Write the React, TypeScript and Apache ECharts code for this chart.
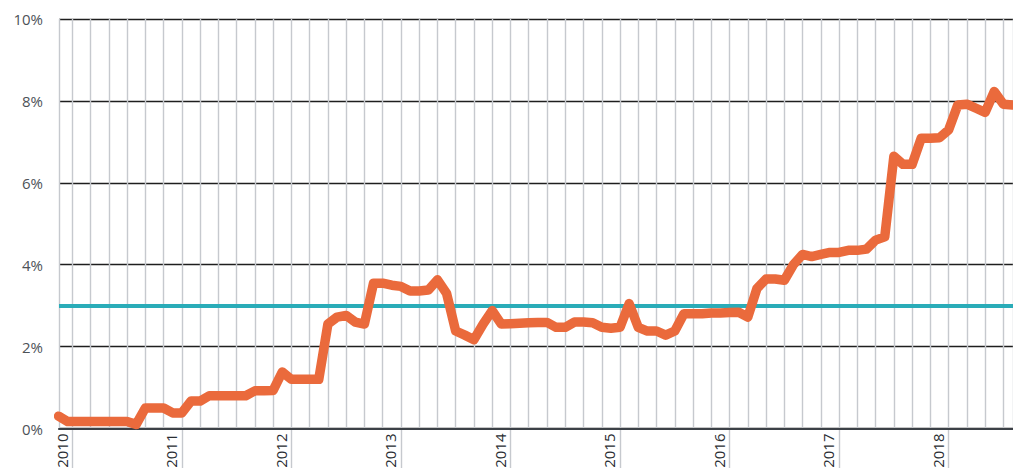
import React, { useEffect, useRef } from "react";
import * as echarts from "echarts";

// Lead-in points (late 2009), in months relative to Jan 2010
const leadMonths = [-1.5, -0.5];
const leadRates = [0.3, 0.17];

// Monthly rate (%) from Jan 2010 (index 0) onward
const rates = [
  0.17, 0.17, 0.17, 0.17, 0.17, 0.17, 0.17, 0.1, 0.5, 0.5, 0.5, 0.38,
  0.38, 0.67, 0.67, 0.8, 0.8, 0.8, 0.8, 0.8, 0.92, 0.92, 0.93, 1.38,
  1.2, 1.2, 1.2, 1.2, 2.55, 2.72, 2.76, 2.6, 2.55, 3.55, 3.55, 3.5,
  3.47, 3.36, 3.36, 3.38, 3.63, 3.3, 2.38, 2.28, 2.17, 2.55, 2.88, 2.55,
  2.56, 2.57, 2.58, 2.59, 2.59, 2.47, 2.47, 2.6, 2.6, 2.58, 2.47, 2.45,
  2.47, 3.05, 2.47, 2.38, 2.38, 2.28, 2.38, 2.8, 2.8, 2.8, 2.82, 2.82,
  2.83, 2.84, 2.72, 3.42, 3.65, 3.65, 3.62, 4.0, 4.25, 4.2, 4.25, 4.3,
  4.3, 4.35, 4.35, 4.38, 4.6, 4.68, 6.65, 6.45, 6.45, 7.09, 7.09, 7.1,
  7.29, 7.9, 7.92, 7.82, 7.72, 8.23, 7.92, 7.9,
];

const years = ["2010", "2011", "2012", "2013", "2014", "2015", "2016", "2017", "2018"];
const yearStartMonths = [0, 12, 24, 36, 48, 60, 72, 84, 96];
const targetRate = 3;
const yTicks = [0, 2, 4, 6, 8, 10];

const X_MIN = -1.457;
const X_MAX = 103.05;
const LABEL_SHIFT = 1.17;

export default function App() {
  const ref = useRef<HTMLDivElement>(null);
  useEffect(() => {
    if (!ref.current) return;
    const chart = echarts.init(ref.current, null, { renderer: "svg" });
    const data = [
      ...leadMonths.map((m, i) => [m, leadRates[i]]),
      ...rates.map((v, i) => [i, v]),
    ];
    const gray = "#c6c9ce";
    chart.setOption({
      animation: false,
      grid: {
        left: 59,
        right: 0,
        top: 19,
        bottom: 39.5,
        containLabel: false,
        outerBoundsMode: "none",
      },
      xAxis: [
        {
          type: "value",
          min: X_MIN,
          max: X_MAX,
          minInterval: 2,
          maxInterval: 2,
          position: "bottom",
          axisLine: { show: true, lineStyle: { color: "#3c4147", width: 2.2 } },
          axisTick: { show: false },
          axisLabel: { show: false },
          splitLine: { show: true, lineStyle: { color: gray, width: 1.4 } },
          z: 3,
        },
        {
          type: "value",
          min: X_MIN,
          max: X_MAX,
          minInterval: 12,
          maxInterval: 12,
          position: "bottom",
          axisLine: { show: false },
          axisTick: {
            show: true,
            customValues: yearStartMonths,
            length: 45,
            inside: false,
            lineStyle: { color: gray, width: 1.4 },
          },
          axisLabel: { show: false },
          splitLine: { show: false },
        },
        {
          type: "value",
          min: X_MIN + LABEL_SHIFT,
          max: X_MAX + LABEL_SHIFT,
          minInterval: 12,
          maxInterval: 12,
          position: "bottom",
          axisLine: { show: false },
          axisTick: { show: false },
          splitLine: { show: false },
          axisLabel: {
            show: true,
            customValues: yearStartMonths,
            showMinLabel: true,
            showMaxLabel: true,
            hideOverlap: false,
            rotate: 90,
            margin: 5,
            fontFamily: "'Open Sans', sans-serif",
            fontSize: 15,
            color: "#2a2e33",
            formatter: (v: number) => {
              const idx = yearStartMonths.indexOf(Math.round(v));
              if (idx < 0 || Math.abs(v - Math.round(v)) > 0.01) return "";
              return years[idx];
            },
          },
        },
      ],
      yAxis: {
        type: "value",
        min: yTicks[0],
        max: yTicks[yTicks.length - 1],
        interval: 2,
        axisLine: { show: false },
        axisTick: { show: false },
        axisLabel: {
          formatter: "{value}%",
          margin: 16,
          fontFamily: "'Open Sans', sans-serif",
          fontSize: 15,
          color: "#4d5258",
        },
        splitLine: { show: true, lineStyle: { color: "#1e1e1e", width: 1.3 } },
      },
      series: [
        {
          name: "Target",
          type: "line",
          data: [],
          z: 2,
          markLine: {
            silent: true,
            symbol: "none",
            label: { show: false },
            lineStyle: { color: "#2aacb8", width: 4, type: "solid" },
            data: [{ yAxis: targetRate }],
          },
        },
        {
          name: "Rate",
          type: "line",
          data,
          z: 5,
          showSymbol: false,
          symbol: "none",
          lineStyle: { color: "#ea6a3c", width: 9.5, cap: "round", join: "round" },
        },
      ],
    });
    return () => chart.dispose();
  }, []);
  return (
    <div
      ref={ref}
      style={{ position: "fixed", left: 0, top: 0, width: 1013, height: 468, background: "#fff" }}
    />
  );
}
